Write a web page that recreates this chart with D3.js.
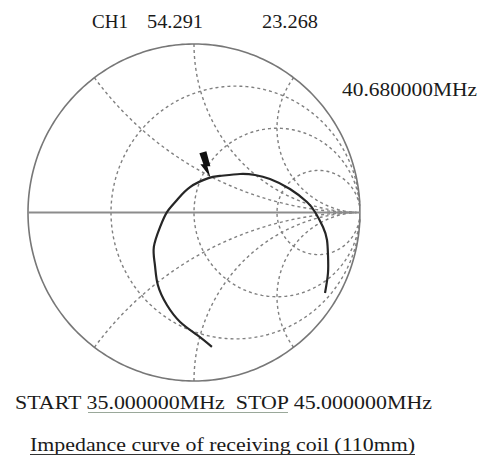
<!DOCTYPE html>
<html>
  <head>
    <meta charset="utf-8">
    <title>Impedance curve of receiving coil</title>
    <script src="https://d3js.org/d3.v7.min.js"></script>
    <style>
      body{
        margin: 0;
        background: #fff;
      }
      text{
        font-family: "Liberation Serif", "DejaVu Serif", serif;
        fill: #1a1a1a;
        white-space: pre;
      }
    </style>
  </head>
  <body>
    <div id="container"></div>
    <script>

      // DATA - trace (ohms, Z0 = 50)
      const z0 = 50;
      const resistance = [12.3, 15.8, 17.9, 20.3, 23.0, 26.1, 28.4, 32.6, 36.0, 40.3, 45.6, 54.3,
                          61.2, 75.8, 90.7, 112.6, 163.7, 251.7, 318.9, 340.4, 250.6, 141.3, 66.0, 27.3];
      const reactance  = [-55.7, -48.7, -40.7, -33.2, -25.8, -19.2, -12.9, -5.9, 0.2, 6.1, 14.1, 23.3,
                          28.6, 39.8, 49.5, 59.6, 70.7, 58.9, 4.1, -150.8, -246.7, -250.3, -216.1, -175.2];

      // marker readout
      const markerLabel = "40.680000MHz";
      const markerR = 54.291;
      const markerX = 23.268;

      // smith grid (normalised)
      const rCircles = [1/3, 1, 3];
      const xArcs = [0.5, 1, 2, -0.5, -1, -2];

      const width = 482, height = 464;

      const svg = d3.select("#container")
        .append("svg")
        .attr("width", width)
        .attr("height", height);

      // SCALES - reflection coefficient plane
      const x = d3.scaleLinear().domain([-1, 1]).range([28, 360]);
      const y = d3.scaleLinear().domain([-1, 1]).range([381, 44]);

      // z -> gamma
      function gamma(r, xx) {
        const d = (r + 1) * (r + 1) + xx * xx;
        return [(r * r + xx * xx - 1) / d, (2 * xx) / d];
      }

      const line = d3.line()
        .x(d => x(d[0]))
        .y(d => y(d[1]));

      // GRID - constant resistance circles
      const ts = d3.range(-1.55, 1.5501, 0.01);
      rCircles.forEach(r => {
        svg.append("path")
          .attr("d", line(ts.map(t => gamma(r, Math.tan(t)))))
          .attr("fill", "none")
          .attr("stroke", "#808080")
          .attr("stroke-width", 1.4)
          .attr("stroke-dasharray", "3,3");
      });

      // GRID - constant reactance arcs
      const rs = d3.range(0, 1.5601, 0.01);
      xArcs.forEach(xx => {
        svg.append("path")
          .attr("d", line(rs.map(t => gamma(Math.tan(t), xx))))
          .attr("fill", "none")
          .attr("stroke", "#808080")
          .attr("stroke-width", 1.4)
          .attr("stroke-dasharray", "3,3");
      });

      // OUTER CIRCLE (r = 0)
      svg.append("path")
        .attr("d", line(ts.map(t => gamma(0, Math.tan(t)))) + "Z")
        .attr("fill", "none")
        .attr("stroke", "#777")
        .attr("stroke-width", 1.6);

      // REAL AXIS
      svg.append("line")
        .attr("x1", x(-1))
        .attr("x2", x(1))
        .attr("y1", y(0))
        .attr("y2", y(0))
        .attr("stroke", "#8c8c8c")
        .attr("stroke-width", 2);

      // TRACE
      const trace = resistance.map((r, i) => gamma(r / z0, reactance[i] / z0));
      svg.append("path")
        .attr("d", d3.line().x(d => x(d[0])).y(d => y(d[1])).curve(d3.curveNatural)(trace))
        .attr("fill", "none")
        .attr("stroke", "#262626")
        .attr("stroke-width", 2.2);

      // MARKER
      const m = gamma(markerR / z0, markerX / z0);
      svg.append("path")
        .attr("transform", "translate(" + (x(m[0]) + 2) + "," + (y(m[1]) - 1) + ")")
        .attr("d", "M0,0 L-3,-11 L0,-11 L-4,-26 L-11,-24 L-7,-13 L-10,-13 Z")
        .attr("fill", "#111");

      // TEXT
      const addText = (str, px, py, len) => svg.append("text")
        .attr("x", px)
        .attr("y", py)
        .attr("font-size", 19)
        .attr("textLength", len)
        .attr("lengthAdjust", "spacingAndGlyphs")
        .text(str);

      addText("CH1", 92, 28, 36);
      addText(markerR.toFixed(3), 147, 28, 56);
      addText(markerX.toFixed(3), 262, 28, 56);
      addText(markerLabel, 342, 96, 135);
      addText("START 35.000000MHz  STOP 45.000000MHz", 15, 409, 417);
      addText("Impedance curve of receiving coil (110mm)", 30, 451, 385);

      // underlines
      svg.append("line")
        .attr("x1", 88).attr("x2", 288)
        .attr("y1", 412.5).attr("y2", 412.5)
        .attr("stroke", "#9aa89a")
        .attr("stroke-width", 1);
      svg.append("line")
        .attr("x1", 30).attr("x2", 415)
        .attr("y1", 454.5).attr("y2", 454.5)
        .attr("stroke", "#333")
        .attr("stroke-width", 1.2);

    </script>
  </body>
</html>
